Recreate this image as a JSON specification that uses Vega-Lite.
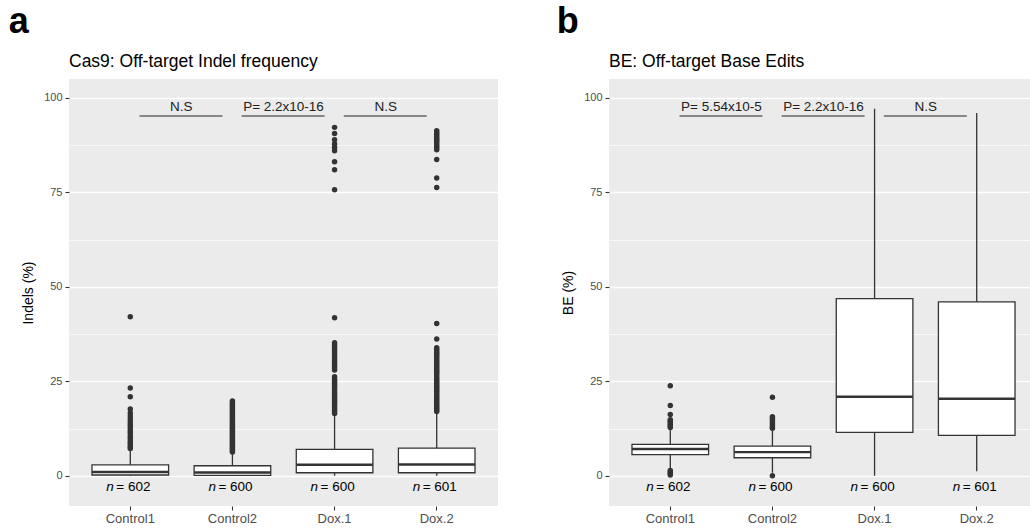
{
  "$schema": "https://vega.github.io/schema/vega-lite/v6.json",
  "background": "white",
  "padding": {"left": 8, "top": 3, "right": 0, "bottom": 0},
  "config": {
    "font": "Liberation Sans",
    "view": {"fill": "#EBEBEB", "stroke": null},
    "title": {"color": "black", "font": "Liberation Sans"},
    "axisX": {"domain": false, "tickColor": "#333333", "tickSize": 4, "tickWidth": 1.1, "labelColor": "#4D4D4D", "labelFontSize": 13, "labelPadding": 2, "labelAngle": 0, "gridColor": "white", "gridWidth": 1.4, "title": null},
    "axisY": {"domain": false, "tickColor": "#333333", "tickSize": 4, "tickWidth": 1.1, "labelColor": "#4D4D4D", "labelFontSize": 11, "labelPadding": 3, "gridColor": "white", "titleFontSize": 14, "titleFontWeight": "normal", "titleColor": "black", "titlePadding": 8}
  },
  "datasets": {
    "boxA": [
      {"group": "Control1", "lo": 0, "q1": 0.2, "med": 1.0, "q3": 2.9, "hi": 6.8},
      {"group": "Control2", "lo": 0, "q1": 0.1, "med": 0.85, "q3": 2.65, "hi": 6.0},
      {"group": "Dox.1", "lo": 0, "q1": 0.8, "med": 2.9, "q3": 7.0, "hi": 16.2},
      {"group": "Dox.2", "lo": 0, "q1": 0.8, "med": 3.0, "q3": 7.3, "hi": 16.7}
    ],
    "outA": [
      {"group": "Control1", "v": 42.1}, {"group": "Control1", "v": 23.2}, {"group": "Control1", "v": 20.9}, {"group": "Control1", "v": 17.7}, {"group": "Control1", "v": 16.6}, {"group": "Control1", "v": 15.8}, {"group": "Control1", "v": 15.0}, {"group": "Control1", "v": 14.3}, {"group": "Control1", "v": 13.6}, {"group": "Control1", "v": 12.9}, {"group": "Control1", "v": 12.2}, {"group": "Control1", "v": 11.5}, {"group": "Control1", "v": 10.8}, {"group": "Control1", "v": 10.1}, {"group": "Control1", "v": 9.5}, {"group": "Control1", "v": 8.9}, {"group": "Control1", "v": 8.3}, {"group": "Control1", "v": 7.7}, {"group": "Control1", "v": 7.2},
      {"group": "Control2", "v": 19.8}, {"group": "Control2", "v": 19.4}, {"group": "Control2", "v": 19.0}, {"group": "Control2", "v": 18.6}, {"group": "Control2", "v": 18.2}, {"group": "Control2", "v": 17.8}, {"group": "Control2", "v": 17.4}, {"group": "Control2", "v": 17.0}, {"group": "Control2", "v": 16.6}, {"group": "Control2", "v": 16.2}, {"group": "Control2", "v": 15.8}, {"group": "Control2", "v": 15.4}, {"group": "Control2", "v": 15.0}, {"group": "Control2", "v": 14.6}, {"group": "Control2", "v": 14.2}, {"group": "Control2", "v": 13.8}, {"group": "Control2", "v": 13.4}, {"group": "Control2", "v": 13.0}, {"group": "Control2", "v": 12.6}, {"group": "Control2", "v": 12.2}, {"group": "Control2", "v": 11.8}, {"group": "Control2", "v": 11.4}, {"group": "Control2", "v": 11.0}, {"group": "Control2", "v": 10.6}, {"group": "Control2", "v": 10.2}, {"group": "Control2", "v": 9.8}, {"group": "Control2", "v": 9.4}, {"group": "Control2", "v": 9.0}, {"group": "Control2", "v": 8.6}, {"group": "Control2", "v": 8.2}, {"group": "Control2", "v": 7.8}, {"group": "Control2", "v": 7.4}, {"group": "Control2", "v": 7.0}, {"group": "Control2", "v": 6.6}, {"group": "Control2", "v": 6.3},
      {"group": "Dox.1", "v": 92.2}, {"group": "Dox.1", "v": 90.6}, {"group": "Dox.1", "v": 88.9}, {"group": "Dox.1", "v": 87.8}, {"group": "Dox.1", "v": 86.9}, {"group": "Dox.1", "v": 86.0}, {"group": "Dox.1", "v": 83.1}, {"group": "Dox.1", "v": 81.0}, {"group": "Dox.1", "v": 75.7}, {"group": "Dox.1", "v": 41.8}, {"group": "Dox.1", "v": 35.2}, {"group": "Dox.1", "v": 34.6}, {"group": "Dox.1", "v": 34.0}, {"group": "Dox.1", "v": 33.4}, {"group": "Dox.1", "v": 32.8}, {"group": "Dox.1", "v": 32.2}, {"group": "Dox.1", "v": 31.6}, {"group": "Dox.1", "v": 31.0}, {"group": "Dox.1", "v": 30.4}, {"group": "Dox.1", "v": 29.8}, {"group": "Dox.1", "v": 29.2}, {"group": "Dox.1", "v": 28.6}, {"group": "Dox.1", "v": 28.0}, {"group": "Dox.1", "v": 26.2}, {"group": "Dox.1", "v": 25.5}, {"group": "Dox.1", "v": 25.0}, {"group": "Dox.1", "v": 24.5}, {"group": "Dox.1", "v": 24.0}, {"group": "Dox.1", "v": 23.5}, {"group": "Dox.1", "v": 23.0}, {"group": "Dox.1", "v": 22.5}, {"group": "Dox.1", "v": 22.0}, {"group": "Dox.1", "v": 21.5}, {"group": "Dox.1", "v": 21.0}, {"group": "Dox.1", "v": 20.5}, {"group": "Dox.1", "v": 20.0}, {"group": "Dox.1", "v": 19.5}, {"group": "Dox.1", "v": 19.0}, {"group": "Dox.1", "v": 18.5}, {"group": "Dox.1", "v": 18.0}, {"group": "Dox.1", "v": 17.5}, {"group": "Dox.1", "v": 17.0}, {"group": "Dox.1", "v": 16.5},
      {"group": "Dox.2", "v": 91.3}, {"group": "Dox.2", "v": 90.8}, {"group": "Dox.2", "v": 90.3}, {"group": "Dox.2", "v": 89.8}, {"group": "Dox.2", "v": 89.3}, {"group": "Dox.2", "v": 88.8}, {"group": "Dox.2", "v": 88.3}, {"group": "Dox.2", "v": 87.8}, {"group": "Dox.2", "v": 87.3}, {"group": "Dox.2", "v": 86.8}, {"group": "Dox.2", "v": 86.3}, {"group": "Dox.2", "v": 83.7}, {"group": "Dox.2", "v": 78.8}, {"group": "Dox.2", "v": 76.3}, {"group": "Dox.2", "v": 40.3}, {"group": "Dox.2", "v": 36.2}, {"group": "Dox.2", "v": 33.9}, {"group": "Dox.2", "v": 33.4}, {"group": "Dox.2", "v": 32.9}, {"group": "Dox.2", "v": 32.4}, {"group": "Dox.2", "v": 31.9}, {"group": "Dox.2", "v": 31.4}, {"group": "Dox.2", "v": 30.9}, {"group": "Dox.2", "v": 30.4}, {"group": "Dox.2", "v": 29.9}, {"group": "Dox.2", "v": 29.4}, {"group": "Dox.2", "v": 28.9}, {"group": "Dox.2", "v": 28.4}, {"group": "Dox.2", "v": 27.9}, {"group": "Dox.2", "v": 27.4}, {"group": "Dox.2", "v": 26.9}, {"group": "Dox.2", "v": 26.4}, {"group": "Dox.2", "v": 25.9}, {"group": "Dox.2", "v": 25.4}, {"group": "Dox.2", "v": 24.9}, {"group": "Dox.2", "v": 24.4}, {"group": "Dox.2", "v": 23.9}, {"group": "Dox.2", "v": 23.4}, {"group": "Dox.2", "v": 22.9}, {"group": "Dox.2", "v": 22.4}, {"group": "Dox.2", "v": 21.9}, {"group": "Dox.2", "v": 21.4}, {"group": "Dox.2", "v": 20.9}, {"group": "Dox.2", "v": 20.4}, {"group": "Dox.2", "v": 19.9}, {"group": "Dox.2", "v": 19.4}, {"group": "Dox.2", "v": 18.9}, {"group": "Dox.2", "v": 18.4}, {"group": "Dox.2", "v": 17.9}, {"group": "Dox.2", "v": 17.4}, {"group": "Dox.2", "v": 17.0}
    ],
    "boxB": [
      {"group": "Control1", "lo": 1.9, "q1": 5.57, "med": 7.07, "q3": 8.3, "hi": 12.3},
      {"group": "Control2", "lo": 0.8, "q1": 4.77, "med": 6.27, "q3": 7.86, "hi": 12.3},
      {"group": "Dox.1", "lo": 0, "q1": 11.5, "med": 20.9, "q3": 46.9, "hi": 97.1},
      {"group": "Dox.2", "lo": 1.2, "q1": 10.7, "med": 20.4, "q3": 46.0, "hi": 96.0}
    ],
    "outB": [
      {"group": "Control1", "v": 23.8}, {"group": "Control1", "v": 18.6}, {"group": "Control1", "v": 16.2}, {"group": "Control1", "v": 14.8}, {"group": "Control1", "v": 14.4}, {"group": "Control1", "v": 14.0}, {"group": "Control1", "v": 13.6}, {"group": "Control1", "v": 13.2}, {"group": "Control1", "v": 12.8}, {"group": "Control1", "v": 1.4}, {"group": "Control1", "v": 1.0}, {"group": "Control1", "v": 0.6}, {"group": "Control1", "v": 0.2},
      {"group": "Control2", "v": 20.8}, {"group": "Control2", "v": 15.6}, {"group": "Control2", "v": 15.2}, {"group": "Control2", "v": 14.6}, {"group": "Control2", "v": 14.0}, {"group": "Control2", "v": 13.5}, {"group": "Control2", "v": 13.0}, {"group": "Control2", "v": 12.6}, {"group": "Control2", "v": 0.0}
    ],
    "nlab": [
      {"group": "Control1", "n": "n", "lab": "=\u00a0602"},
      {"group": "Control2", "n": "n", "lab": "=\u00a0600"},
      {"group": "Dox.1", "n": "n", "lab": "=\u00a0600"},
      {"group": "Dox.2", "n": "n", "lab": "=\u00a0601"}
    ],
    "sigA": [
      {"from": "Control1", "to": "Control2", "label": "N.S"},
      {"from": "Control2", "to": "Dox.1", "label": "P= 2.2x10-16"},
      {"from": "Dox.1", "to": "Dox.2", "label": "N.S"}
    ],
    "sigB": [
      {"from": "Control1", "to": "Control2", "label": "P= 5.54x10-5"},
      {"from": "Control2", "to": "Dox.1", "label": "P= 2.2x10-16"},
      {"from": "Dox.1", "to": "Dox.2", "label": "N.S"}
    ]
  },
  "spacing": 58,
  "hconcat": [
    {
      "title": {"text": "a", "fontSize": 36, "fontWeight": "bold", "anchor": "start", "frame": "bounds", "dx": -13, "offset": 12},
      "vconcat": [
        {
          "width": 429, "height": 427,
          "title": {"text": "Cas9: Off-target Indel frequency", "fontSize": 17.5, "fontWeight": "normal", "anchor": "start", "frame": "group", "baseline": "alphabetic", "offset": -5},
          "layer": [
            {
              "data": {"name": "boxA"},
              "mark": {"type": "rule", "color": "#333333", "strokeWidth": 1.3},
              "encoding": {
                "x": {"field": "group", "type": "nominal", "scale": {"domain": ["Control1", "Control2", "Dox.1", "Dox.2"], "paddingInner": 0.25, "paddingOuter": 0.225}, "axis": {"title": null}},
                "y": {"field": "lo", "type": "quantitative", "scale": {"domain": [-8, 105], "nice": false, "zero": false},
                  "axis": {"title": "Indels (%)", "values": [0, 12.5, 25, 37.5, 50, 62.5, 75, 87.5, 100], "labelExpr": "datum.value % 25 === 0 ? datum.label : ''", "gridWidth": {"condition": {"test": "datum.value % 25 !== 0", "value": 0.7}, "value": 1.4}, "tickOpacity": {"condition": {"test": "datum.value % 25 !== 0", "value": 0}, "value": 1}}},
                "y2": {"field": "hi"}
              }
            },
            {
              "data": {"name": "boxA"},
              "mark": {"type": "bar", "fill": "white", "stroke": "#333333", "strokeWidth": 1.3},
              "encoding": {
                "x": {"field": "group", "type": "nominal"},
                "y": {"field": "q1", "type": "quantitative"},
                "y2": {"field": "q3"}
              }
            },
            {
              "data": {"name": "boxA"},
              "mark": {"type": "bar", "fillOpacity": 0, "stroke": "#333333", "strokeWidth": 2.4},
              "encoding": {
                "x": {"field": "group", "type": "nominal"},
                "y": {"field": "med", "type": "quantitative"},
                "y2": {"field": "med"}
              }
            },
            {
              "data": {"name": "outA"},
              "mark": {"type": "point", "filled": true, "size": 30, "color": "#333333", "opacity": 1},
              "encoding": {
                "x": {"field": "group", "type": "nominal"},
                "y": {"field": "v", "type": "quantitative"}
              }
            },
            {
              "data": {"name": "nlab"},
              "mark": {"type": "text", "fontSize": 13.5, "fontStyle": "italic", "align": "right", "baseline": "alphabetic", "dx": -16.5, "color": "black"},
              "encoding": {
                "x": {"field": "group", "type": "nominal"},
                "y": {"datum": -3.9},
                "text": {"field": "n"}
              }
            },
            {
              "data": {"name": "nlab"},
              "mark": {"type": "text", "fontSize": 13.5, "align": "left", "baseline": "alphabetic", "dx": -14, "color": "black"},
              "encoding": {
                "x": {"field": "group", "type": "nominal"},
                "y": {"datum": -3.9},
                "text": {"field": "lab"}
              }
            },
            {
              "data": {"name": "sigA"},
              "mark": {"type": "rule", "color": "#666666", "strokeWidth": 1.5},
              "encoding": {
                "x": {"field": "from", "type": "nominal", "bandPosition": 0.62},
                "x2": {"field": "to", "bandPosition": 0.37},
                "y": {"datum": 95.2}
              }
            },
            {
              "data": {"name": "sigA"},
              "mark": {"type": "text", "fontSize": 13.5, "align": "center", "baseline": "alphabetic", "dy": -4.6, "color": "#222222"},
              "encoding": {
                "x": {"field": "from", "type": "nominal", "bandPosition": 1.1667},
                "y": {"datum": 95.2},
                "text": {"field": "label"}
              }
            }
          ]
        }
      ]
    },
    {
      "title": {"text": "b", "fontSize": 36, "fontWeight": "bold", "anchor": "start", "frame": "bounds", "dx": -5, "offset": 12},
      "vconcat": [
        {
          "width": 429, "height": 427,
          "title": {"text": "BE: Off-target Base Edits", "fontSize": 17.5, "fontWeight": "normal", "anchor": "start", "frame": "group", "baseline": "alphabetic", "offset": -5},
          "layer": [
            {
              "data": {"name": "boxB"},
              "mark": {"type": "rule", "color": "#333333", "strokeWidth": 1.3},
              "encoding": {
                "x": {"field": "group", "type": "nominal", "scale": {"domain": ["Control1", "Control2", "Dox.1", "Dox.2"], "paddingInner": 0.25, "paddingOuter": 0.225}, "axis": {"title": null}},
                "y": {"field": "lo", "type": "quantitative", "scale": {"domain": [-8, 105], "nice": false, "zero": false},
                  "axis": {"title": "BE (%)", "values": [0, 12.5, 25, 37.5, 50, 62.5, 75, 87.5, 100], "labelExpr": "datum.value % 25 === 0 ? datum.label : ''", "gridWidth": {"condition": {"test": "datum.value % 25 !== 0", "value": 0.7}, "value": 1.4}, "tickOpacity": {"condition": {"test": "datum.value % 25 !== 0", "value": 0}, "value": 1}}},
                "y2": {"field": "hi"}
              }
            },
            {
              "data": {"name": "boxB"},
              "mark": {"type": "bar", "fill": "white", "stroke": "#333333", "strokeWidth": 1.3},
              "encoding": {
                "x": {"field": "group", "type": "nominal"},
                "y": {"field": "q1", "type": "quantitative"},
                "y2": {"field": "q3"}
              }
            },
            {
              "data": {"name": "boxB"},
              "mark": {"type": "bar", "fillOpacity": 0, "stroke": "#333333", "strokeWidth": 2.4},
              "encoding": {
                "x": {"field": "group", "type": "nominal"},
                "y": {"field": "med", "type": "quantitative"},
                "y2": {"field": "med"}
              }
            },
            {
              "data": {"name": "outB"},
              "mark": {"type": "point", "filled": true, "size": 30, "color": "#333333", "opacity": 1},
              "encoding": {
                "x": {"field": "group", "type": "nominal"},
                "y": {"field": "v", "type": "quantitative"}
              }
            },
            {
              "data": {"name": "nlab"},
              "mark": {"type": "text", "fontSize": 13.5, "fontStyle": "italic", "align": "right", "baseline": "alphabetic", "dx": -16.5, "color": "black"},
              "encoding": {
                "x": {"field": "group", "type": "nominal"},
                "y": {"datum": -3.9},
                "text": {"field": "n"}
              }
            },
            {
              "data": {"name": "nlab"},
              "mark": {"type": "text", "fontSize": 13.5, "align": "left", "baseline": "alphabetic", "dx": -14, "color": "black"},
              "encoding": {
                "x": {"field": "group", "type": "nominal"},
                "y": {"datum": -3.9},
                "text": {"field": "lab"}
              }
            },
            {
              "data": {"name": "sigB"},
              "mark": {"type": "rule", "color": "#666666", "strokeWidth": 1.5},
              "encoding": {
                "x": {"field": "from", "type": "nominal", "bandPosition": 0.62},
                "x2": {"field": "to", "bandPosition": 0.37},
                "y": {"datum": 95.2}
              }
            },
            {
              "data": {"name": "sigB"},
              "mark": {"type": "text", "fontSize": 13.5, "align": "center", "baseline": "alphabetic", "dy": -4.6, "color": "#222222"},
              "encoding": {
                "x": {"field": "from", "type": "nominal", "bandPosition": 1.1667},
                "y": {"datum": 95.2},
                "text": {"field": "label"}
              }
            }
          ]
        }
      ]
    }
  ]
}
